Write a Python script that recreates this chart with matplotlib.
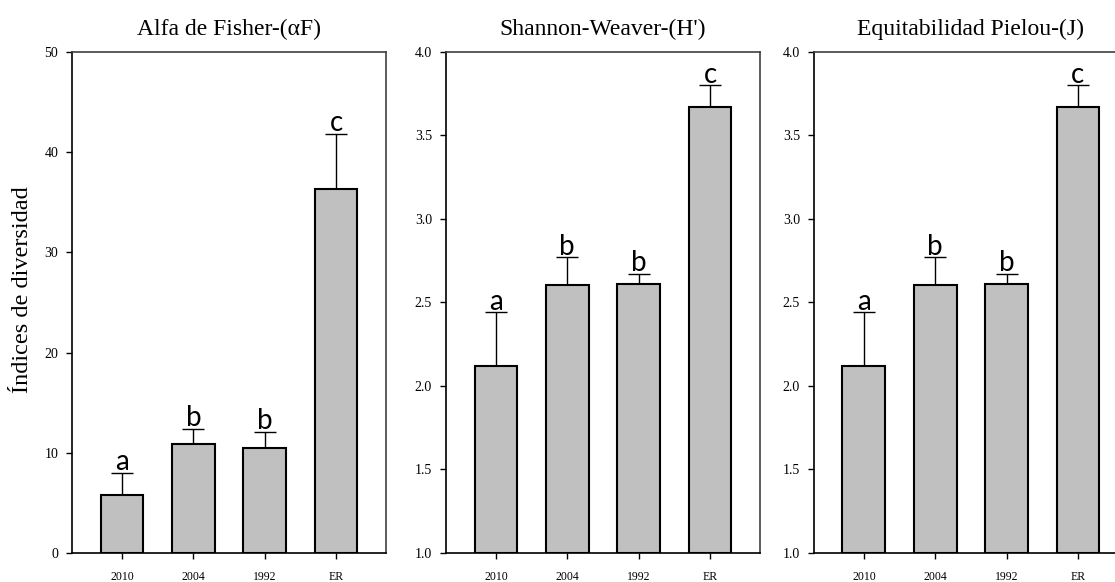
import numpy as np
import matplotlib
matplotlib.use("Agg")
from matplotlib import pyplot as plt

sites = ["2010", "2004", "1992", "ER"]
groups = ["a", "b", "b", "c"]

fisher_mean = [5.8, 10.9, 10.5, 36.3]
fisher_err = [2.2, 1.5, 1.6, 5.5]

shannon_mean = [2.12, 2.605, 2.61, 3.67]
shannon_err = [0.32, 0.165, 0.06, 0.13]

pielou_mean = [2.12, 2.605, 2.61, 3.67]
pielou_err = [0.32, 0.165, 0.06, 0.13]

titles = ["Alfa de Fisher-(\u03b1F)", "Shannon-Weaver-(H')", "Equitabilidad Pielou-(J)"]

serif = ["Liberation Serif", "DejaVu Serif"]
letter_font = ["Lato", "DejaVu Sans"]

fig = plt.figure(figsize=(11.15, 5.82), dpi=100)

panels = [
    (0.0646, fisher_mean, fisher_err, (0, 50), [0, 10, 20, 30, 40, 50], "%d"),
    (0.4000, shannon_mean, shannon_err, (1.0, 4.0), [1.0, 1.5, 2.0, 2.5, 3.0, 3.5, 4.0], "%.1f"),
    (0.7300, pielou_mean, pielou_err, (1.0, 4.0), [1.0, 1.5, 2.0, 2.5, 3.0, 3.5, 4.0], "%.1f"),
]

x = np.arange(len(sites))
for k, (left, mean, err, ylim, yticks, fmt) in enumerate(panels):
    ax = fig.add_axes([left, 0.0498, 0.2816, 0.861])
    base = ylim[0]
    heights = np.array(mean) - base
    ax.bar(x, heights, bottom=base, width=0.6, color="#c0c0c0",
           edgecolor="black", linewidth=1.5, zorder=2)
    ax.errorbar(x, mean, yerr=[np.zeros(len(err)), err], fmt="none",
                ecolor="black", elinewidth=1, capsize=7.9, capthick=1, zorder=1)
    for i in range(len(sites)):
        ax.annotate(groups[i], (x[i], mean[i] + err[i]), xytext=(0, 2),
                    textcoords="offset points", ha="center", va="baseline",
                    fontsize=20, family=letter_font)
    ax.set_xlim(-0.7, 3.7)
    ax.set_ylim(*ylim)
    ax.set_yticks(yticks)
    ax.set_yticklabels([fmt % v for v in yticks], family=serif, fontsize=10)
    ax.set_xticks(x)
    ax.set_xticklabels(sites, family=serif, fontsize=8.5)
    ax.tick_params(direction="out", length=4, width=1, top=False, right=False, pad=6)
    ax.tick_params(axis="x", pad=9)
    for side in ["left", "bottom"]:
        ax.spines[side].set_color("black")
        ax.spines[side].set_linewidth(1.2)
    for side in ["top", "right"]:
        ax.spines[side].set_color("#404040")
        ax.spines[side].set_linewidth(1.2)
    ax.set_title(titles[k], family=serif, fontsize=17, pad=12)
    if k == 0:
        ax.set_ylabel("\u00cdndices de diversidad", family=serif, fontsize=17.5)
        ax.yaxis.set_label_coords(-0.124, 0.525)

fig.savefig("out.png", dpi=100)
